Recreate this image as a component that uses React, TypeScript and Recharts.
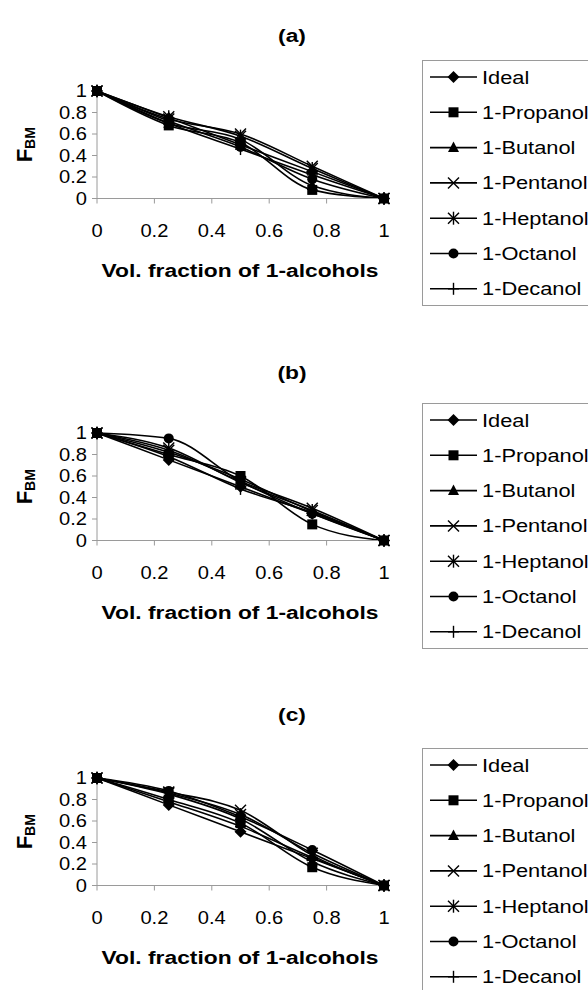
import React from 'react';
import { LineChart, Line, XAxis, YAxis } from 'recharts';

// volume fraction of the 1-alcohol (x) and F_BM (y)
const xFractions = [0, 0.25, 0.5, 0.75, 1];
const seriesNames = ['Ideal', '1-Propanol', '1-Butanol', '1-Pentanol', '1-Heptanol', '1-Octanol', '1-Decanol'];
const seriesKeys = ['ideal', 'propanol', 'butanol', 'pentanol', 'heptanol', 'octanol', 'decanol'];
const markerShapes = ['diamond', 'square', 'triangle', 'cross', 'star', 'circle', 'plus'];
const xTicks = [0, 0.2, 0.4, 0.6, 0.8, 1];
const yTicks = [0, 0.2, 0.4, 0.6, 0.8, 1];
const panelTitles = ['(a)', '(b)', '(c)'];
const xAxisTitle = 'Vol. fraction of 1-alcohols';

// one row per series, same order as seriesNames
const panelA = [
  [1, 0.75, 0.5, 0.25, 0],
  [1, 0.68, 0.52, 0.08, 0],
  [1, 0.7, 0.55, 0.12, 0],
  [1, 0.74, 0.6, 0.3, 0],
  [1, 0.76, 0.58, 0.28, 0],
  [1, 0.72, 0.48, 0.18, 0],
  [1, 0.7, 0.46, 0.22, 0],
];
const panelB = [
  [1, 0.75, 0.5, 0.25, 0],
  [1, 0.8, 0.6, 0.15, 0],
  [1, 0.82, 0.57, 0.27, 0],
  [1, 0.84, 0.55, 0.3, 0],
  [1, 0.86, 0.54, 0.28, 0],
  [1, 0.95, 0.55, 0.25, 0],
  [1, 0.78, 0.48, 0.26, 0],
];
const panelC = [
  [1, 0.75, 0.5, 0.25, 0],
  [1, 0.8, 0.58, 0.17, 0],
  [1, 0.85, 0.62, 0.22, 0],
  [1, 0.87, 0.7, 0.28, 0],
  [1, 0.86, 0.66, 0.3, 0],
  [1, 0.88, 0.64, 0.33, 0],
  [1, 0.78, 0.55, 0.26, 0],
];

const FONT = '"Liberation Sans", Arial, sans-serif';
const PAD = 20;
const PLOT_H = 107.5;
const XAXIS_H = 90;
const AXIS_GREY = '#9a9a9a';
const LINE_W = 1.6;

const panels = [
  { title: panelTitles[0], values: panelA, plotTop: 91, titleY: 35, legendTop: 60 },
  { title: panelTitles[1], values: panelB, plotTop: 433, titleY: 372, legendTop: 403 },
  { title: panelTitles[2], values: panelC, plotTop: 778, titleY: 714, legendTop: 748 },
];

const Marker = ({ shape, cx, cy }: { shape: string; cx: number; cy: number }) => {
  const k = '#000';
  switch (shape) {
    case 'diamond':
      return <polygon points={`${cx},${cy - 6} ${cx + 6},${cy} ${cx},${cy + 6} ${cx - 6},${cy}`} fill={k} />;
    case 'square':
      return <rect x={cx - 5} y={cy - 5} width={10} height={10} fill={k} />;
    case 'triangle':
      return <polygon points={`${cx},${cy - 6} ${cx + 5.5},${cy + 4.5} ${cx - 5.5},${cy + 4.5}`} fill={k} />;
    case 'cross':
      return (
        <g stroke={k} strokeWidth={1.4}>
          <line x1={cx - 5.5} y1={cy - 5.5} x2={cx + 5.5} y2={cy + 5.5} />
          <line x1={cx - 5.5} y1={cy + 5.5} x2={cx + 5.5} y2={cy - 5.5} />
        </g>
      );
    case 'star':
      return (
        <g stroke={k} strokeWidth={1.4}>
          <line x1={cx - 5.5} y1={cy - 5.5} x2={cx + 5.5} y2={cy + 5.5} />
          <line x1={cx - 5.5} y1={cy + 5.5} x2={cx + 5.5} y2={cy - 5.5} />
          <line x1={cx} y1={cy - 6.5} x2={cx} y2={cy + 6.5} />
        </g>
      );
    case 'circle':
      return <circle cx={cx} cy={cy} r={5} fill={k} />;
    default:
      return (
        <g stroke={k} strokeWidth={1.4}>
          <line x1={cx} y1={cy - 6} x2={cx} y2={cy + 6} />
          <line x1={cx - 5.5} y1={cy} x2={cx + 5.5} y2={cy} />
        </g>
      );
  }
};

const XTick = (props: any) => {
  const { x, y, payload } = props;
  return (
    <text transform={`translate(${x},${y + 31}) scale(1.15,1)`} textAnchor="middle" fontSize={17.5} fontFamily={FONT} fill="#000">
      {String(payload.value)}
    </text>
  );
};

const YTick = (props: any) => {
  const { x, y, payload } = props;
  return (
    <text transform={`translate(${x - 3},${y + 6}) scale(1.15,1)`} textAnchor="end" fontSize={17.5} fontFamily={FONT} fill="#000">
      {String(payload.value)}
    </text>
  );
};

const Panel = ({ values, plotTop }: { values: number[][]; plotTop: number }) => {
  const rows = xFractions.map((x, i) => {
    const row: Record<string, number> = { x };
    seriesKeys.forEach((key, s) => {
      row[key] = values[s][i];
    });
    return row;
  });

  return (
    <div style={{ position: 'absolute', left: 0, top: plotTop - PAD }}>
      <LineChart
        width={588}
        height={PAD + PLOT_H + XAXIS_H}
        data={rows}
        margin={{ top: PAD, right: 204, bottom: 0, left: 0 }}
      >
        <XAxis
          dataKey="x"
          type="number"
          domain={[0, 1]}
          ticks={xTicks}
          interval={0}
          height={XAXIS_H}
          axisLine={{ stroke: AXIS_GREY }}
          tickLine={{ stroke: AXIS_GREY }}
          tickSize={5}
          tick={(p: any) => <XTick {...p} />}
        />
        <YAxis
          type="number"
          domain={[0, 1]}
          ticks={yTicks}
          interval={0}
          width={97}
          axisLine={{ stroke: AXIS_GREY }}
          tickLine={{ stroke: AXIS_GREY }}
          tickSize={5}
          tick={(p: any) => <YTick {...p} />}
        />
        {seriesKeys.map((key, s) => (
          <Line
            key={key}
            dataKey={key}
            name={seriesNames[s]}
            type="monotone"
            stroke="#000"
            strokeWidth={LINE_W}
            isAnimationActive={false}
            activeDot={false}
            dot={(p: any) => <Marker key={`${key}-${p.index}`} shape={markerShapes[s]} cx={p.cx} cy={p.cy} />}
          />
        ))}
      </LineChart>
    </div>
  );
};

const LegendBox = ({ top }: { top: number }) => (
  <g>
    <rect x={422.5} y={top + 0.5} width={200} height={245} fill="none" stroke={AXIS_GREY} />
    {seriesNames.map((name, i) => {
      const cy = top + 17 + i * 35.3;
      return (
        <g key={name}>
          <line x1={430} y1={cy} x2={477} y2={cy} stroke="#000" strokeWidth={LINE_W} />
          <Marker shape={markerShapes[i]} cx={453.5} cy={cy} />
          <text transform={`translate(482,${cy + 6.5}) scale(1.18,1)`} fontSize={18.5} fontFamily={FONT} fill="#000">
            {name}
          </text>
        </g>
      );
    })}
  </g>
);

export default function App() {
  return (
    <div style={{ position: 'fixed', left: 0, top: 0, width: 588, height: 990, overflow: 'hidden', background: '#fff' }}>
      {panels.map((p) => (
        <Panel key={p.title} values={p.values} plotTop={p.plotTop} />
      ))}
      <svg width={588} height={990} style={{ position: 'absolute', left: 0, top: 0, pointerEvents: 'none' }}>
        {panels.map((p) => (
          <g key={p.title}>
            <text
              transform={`translate(292,${p.titleY + 7}) scale(1.2,1)`}
              textAnchor="middle"
              fontSize={19}
              fontWeight="bold"
              fontFamily={FONT}
            >
              {p.title}
            </text>
            <text
              transform={`translate(32,${p.plotTop + PLOT_H / 2}) rotate(-90)`}
              textAnchor="middle"
              fontWeight="bold"
              fontFamily={FONT}
            >
              <tspan fontSize={22}>F</tspan>
              <tspan fontSize={14} dy={3}>BM</tspan>
            </text>
            <text
              transform={`translate(240,${p.plotTop + PLOT_H + 78}) scale(1.2,1)`}
              textAnchor="middle"
              fontSize={19}
              fontWeight="bold"
              fontFamily={FONT}
            >
              {xAxisTitle}
            </text>
            <LegendBox top={p.legendTop} />
          </g>
        ))}
      </svg>
    </div>
  );
}
